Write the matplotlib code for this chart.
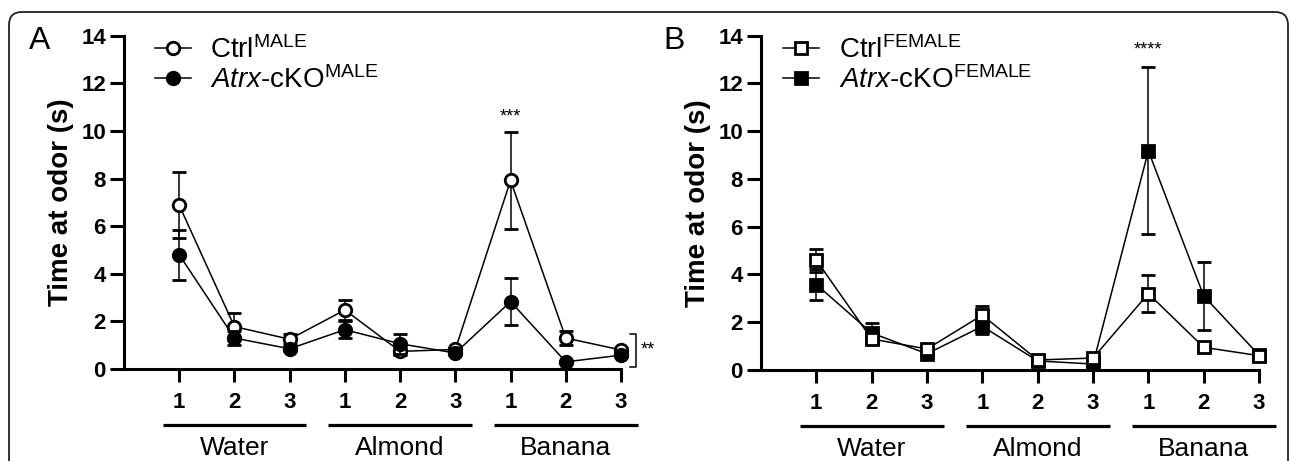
import numpy as np
import matplotlib
matplotlib.use('Agg')
import matplotlib.pyplot as plt
from matplotlib.patches import FancyBboxPatch
from matplotlib.lines import Line2D
import matplotlib.transforms as mtransforms

plt.rcParams['font.family'] = ['Liberation Sans', 'DejaVu Sans']
plt.rcParams['mathtext.fontset'] = 'custom'
plt.rcParams['mathtext.rm'] = 'Liberation Sans'
plt.rcParams['mathtext.it'] = 'Liberation Sans:italic'
plt.rcParams['mathtext.bf'] = 'Liberation Sans:bold'

# ------------------------------------------------------------------------
# data, 3 trials per odor
odors = ['Water', 'Almond', 'Banana']
trials = ['1', '2', '3']

# Panel A - males
ctrl_m_mean = [6.88, 1.78, 1.25, 2.48, 0.74, 0.82, 7.92, 1.30, 0.80]
ctrl_m_sem  = [1.38, 0.57, 0.20, 0.42, 0.15, 0.08, 2.05, 0.30, 0.10]
ko_m_mean   = [4.80, 1.30, 0.85, 1.65, 1.06, 0.67, 2.83, 0.30, 0.58]
ko_m_sem    = [1.05, 0.30, 0.10, 0.35, 0.42, 0.08, 0.98, 0.05, 0.08]

# Panel B - females
ctrl_f_mean = [4.60, 1.30, 0.88, 2.30, 0.42, 0.50, 3.20, 0.95, 0.60]
ctrl_f_sem  = [0.48, 0.20, 0.15, 0.38, 0.10, 0.10, 0.76, 0.10, 0.08]
ko_f_mean   = [3.58, 1.55, 0.68, 1.83, 0.38, 0.25, 9.18, 3.10, 0.62]
ko_f_sem    = [0.65, 0.42, 0.10, 0.33, 0.08, 0.10, 3.50, 1.43, 0.08]

x = np.arange(1, len(odors) * len(trials) + 1)

fig = plt.figure(figsize=(12.9, 4.61), dpi=100)

# rounded frame around the whole figure
frame = FancyBboxPatch((0.09, -0.5), 12.79, 4.99, boxstyle='round,pad=0,rounding_size=0.13',
                       transform=fig.dpi_scale_trans, fc='none', ec='#222222', lw=1.3)
fig.patches.append(frame)

axA = fig.add_axes([0.0961, 0.1996, 0.3853, 0.7230])
axB = fig.add_axes([0.5899, 0.1974, 0.3861, 0.7252])

MS, MEW = 9, 2


def draw_series(ax, mean, sem, marker, filled, z):
    ax.errorbar(x, mean, yerr=sem, marker=marker, color='black',
                mfc='black' if filled else 'white', mec='black', ms=MS, mew=MEW,
                lw=1.1, elinewidth=1.1, capsize=4.7, capthick=1.1, zorder=z)


def legend_handle(marker, filled):
    return Line2D([], [], color='black', marker=marker, mfc='black' if filled else 'white',
                  mec='black', ms=MS, mew=MEW, lw=1.1)


def style_axes(ax):
    ax.set_xlim(0, 9)
    ax.set_ylim(0, 14)
    ax.set_yticks(np.arange(0, 15, 2))
    ax.set_xticks(x)
    ax.set_xticklabels(trials * len(odors))
    for s in ['top', 'right']:
        ax.spines[s].set_visible(False)
    for s in ['left', 'bottom']:
        ax.spines[s].set_linewidth(2.2)
    ax.tick_params(axis='y', length=10, width=2.2, pad=3, labelsize=16)
    ax.tick_params(axis='x', length=9.5, width=2.2, pad=7, labelsize=16)
    for lab in ax.get_xticklabels() + ax.get_yticklabels():
        lab.set_fontweight('bold')
    ax.set_ylabel('Time at odor (s)', fontsize=20, fontweight='bold', labelpad=5)
    # odor group underlines + names
    trans = mtransforms.blended_transform_factory(ax.transData, ax.transAxes)
    for i, name in enumerate(odors):
        x0 = i * 3 + 0.7
        x1 = i * 3 + 3.3
        ax.plot([x0, x1], [-0.168, -0.168], color='black', lw=2.3,
                transform=trans, clip_on=False, solid_capstyle='butt')
        ax.text(i * 3 + 2, -0.2, name, transform=trans, ha='center', va='top',
                fontsize=19)
    for ch in ax.get_children():
        if hasattr(ch, 'set_clip_on'):
            ch.set_clip_on(False)


def add_legend(ax, handles, labels, x0):
    ax.legend(handles, labels, loc='upper left', bbox_to_anchor=(x0, 0.922),
              bbox_transform=fig.transFigure, frameon=False, fontsize=20,
              handlelength=1.3, handletextpad=0.7, labelspacing=0.07,
              borderpad=0, borderaxespad=0)


# Panel A
draw_series(axA, ctrl_m_mean, ctrl_m_sem, 'o', False, 3)
draw_series(axA, ko_m_mean, ko_m_sem, 'o', True, 4)
style_axes(axA)
axA.text(7, 10.6, '***', ha='center', va='center', fontsize=13)
axA.plot([9.17, 9.28, 9.28, 9.17], [1.47, 1.47, 0.08, 0.08], color='black', lw=1.1, clip_on=False)
axA.text(9.35, 0.78, '**', ha='left', va='center', fontsize=13)
add_legend(axA, [legend_handle('o', False), legend_handle('o', True)],
           [r'Ctrl$^{\rm MALE}$', r'$\it{Atrx}$-cKO$^{\rm MALE}$'], 0.12)

# Panel B
draw_series(axB, ctrl_f_mean, ctrl_f_sem, 's', False, 4)
draw_series(axB, ko_f_mean, ko_f_sem, 's', True, 3)
style_axes(axB)
axB.text(7, 13.4, '****', ha='center', va='center', fontsize=13)
add_legend(axB, [legend_handle('s', False), legend_handle('s', True)],
           [r'Ctrl$^{\rm FEMALE}$', r'$\it{Atrx}$-cKO$^{\rm FEMALE}$'], 0.607)

fig.text(40 / 1290, 1 - 41 / 461, 'A', ha='center', va='center', fontsize=23)
fig.text(674 / 1290, 1 - 41 / 461, 'B', ha='center', va='center', fontsize=23)

fig.savefig('out.png', dpi=100)
